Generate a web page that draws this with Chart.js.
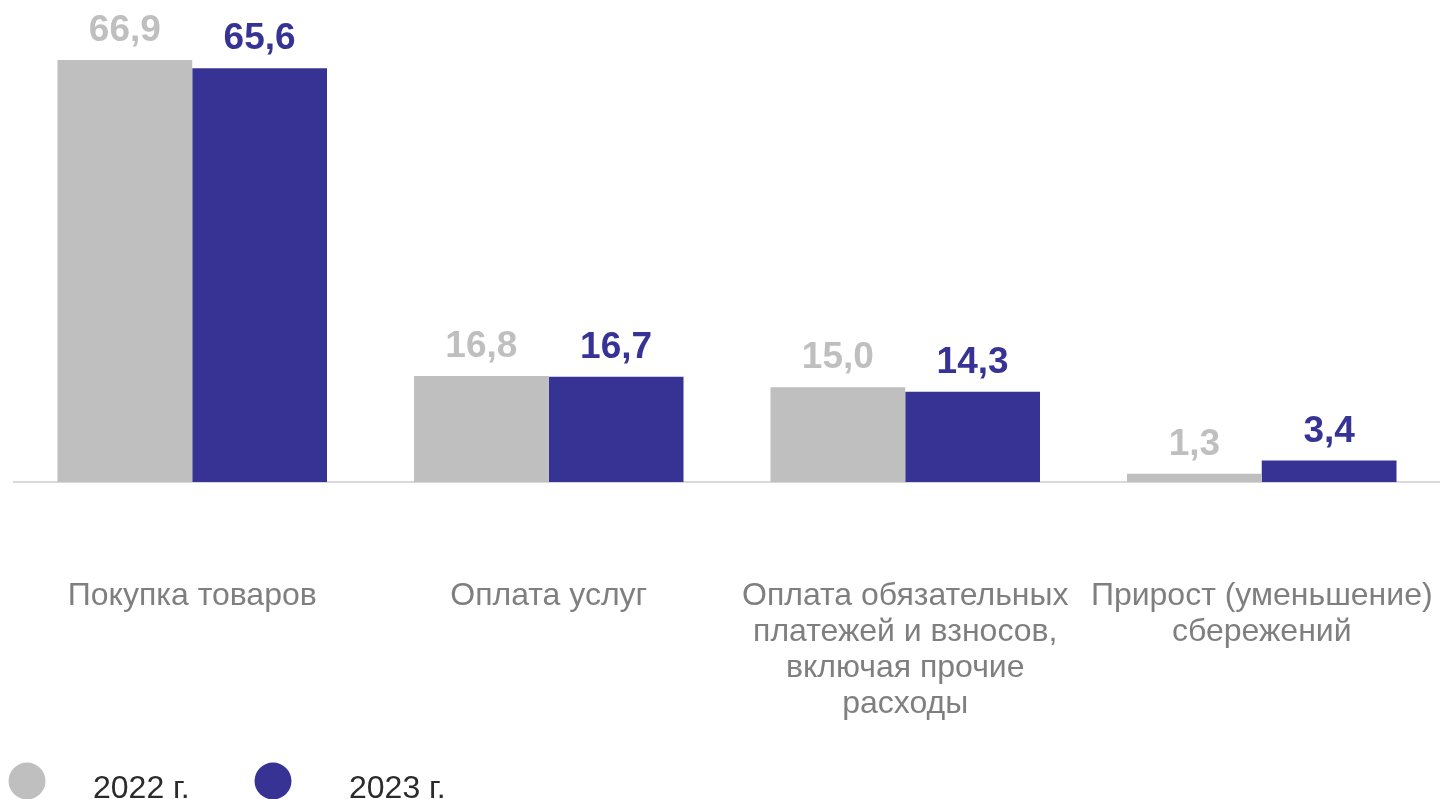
<!DOCTYPE html>
<html>
<head>
<meta charset="utf-8">
<script src="https://cdn.jsdelivr.net/npm/chart.js@4.4.1/dist/chart.umd.min.js"></script>
<style>
  html, body { margin: 0; padding: 0; background: #fff; }
  #wrap { position: relative; width: 1440px; height: 799px; overflow: hidden; }
</style>
</head>
<body>
<div id="wrap"><canvas id="chart"></canvas></div>
<script>
// Chart data
const categories = [
    ['Покупка товаров'],
    ['Оплата услуг'],
    ['Оплата обязательных', 'платежей и взносов,', 'включая прочие', 'расходы'],
    ['Прирост (уменьшение)', 'сбережений']
];
const seriesNames = ['2022 г.', '2023 г.'];
const values2022 = [66.9, 16.8, 15.0, 1.3];
const values2023 = [65.6, 16.7, 14.3, 3.4];

const GREY = '#bfbfbf';
const NAVY = '#363395';
const FONT = '"Liberation Sans", Arial, sans-serif';

// Value labels above the bars
const valueLabels = {
    id: 'valueLabels',
    afterDatasetsDraw(chart) {
        const ctx = chart.ctx;
        ctx.save();
        ctx.font = 'bold 37px ' + FONT;
        ctx.textAlign = 'center';
        ctx.textBaseline = 'alphabetic';
        chart.data.datasets.forEach((ds, i) => {
            chart.getDatasetMeta(i).data.forEach((bar, j) => {
                ctx.fillStyle = ds.backgroundColor;
                ctx.fillText(ds.data[j].toFixed(1).replace('.', ','), bar.x, bar.y - 19);
            });
        });
        ctx.restore();
    }
};

// Legend at the bottom, circles + text
const bottomLegend = {
    id: 'bottomLegend',
    afterDraw(chart) {
        const ctx = chart.ctx;
        const circleX = [27, 273];
        const textX = [93, 349];
        ctx.save();
        ctx.font = '32px ' + FONT;
        ctx.textBaseline = 'alphabetic';
        ctx.textAlign = 'left';
        chart.data.datasets.forEach((ds, i) => {
            ctx.fillStyle = ds.backgroundColor;
            ctx.beginPath();
            ctx.arc(circleX[i], 781, 18.5, 0, Math.PI * 2);
            ctx.fill();
            ctx.fillStyle = '#2b2b2b';
            ctx.fillText(ds.label, textX[i], 798);
        });
        ctx.restore();
    }
};

const ctx = document.getElementById('chart').getContext('2d');
new Chart(ctx, {
    type: 'bar',
    data: {
        labels: categories,
        datasets: [
            { label: seriesNames[0], data: values2022, backgroundColor: GREY },
            { label: seriesNames[1], data: values2023, backgroundColor: NAVY }
        ]
    },
    options: {
        responsive: true,
        maintainAspectRatio: false,
        animation: false,
        layout: { padding: { left: 14, right: 0, top: 0, bottom: 0 } },
        categoryPercentage: 0.756,
        barPercentage: 1.0,
        plugins: {
            legend: { display: false },
            tooltip: { enabled: false }
        },
        scales: {
            x: {
                grid: { display: false },
                border: { display: true, color: '#d9d9d9', width: 2 },
                ticks: {
                    color: '#7f7f7f',
                    font: { family: FONT, size: 32, lineHeight: 1.13 },
                    padding: 88,
                    maxRotation: 0,
                    autoSkip: false
                },
                afterFit(scale) {
                    scale.height = 317;
                    scale.paddingLeft = 0;
                    scale.paddingRight = 0;
                }
            },
            y: {
                display: false,
                min: 0,
                max: 76.4
            }
        }
    },
    plugins: [valueLabels, bottomLegend]
});
</script>
</body>
</html>
